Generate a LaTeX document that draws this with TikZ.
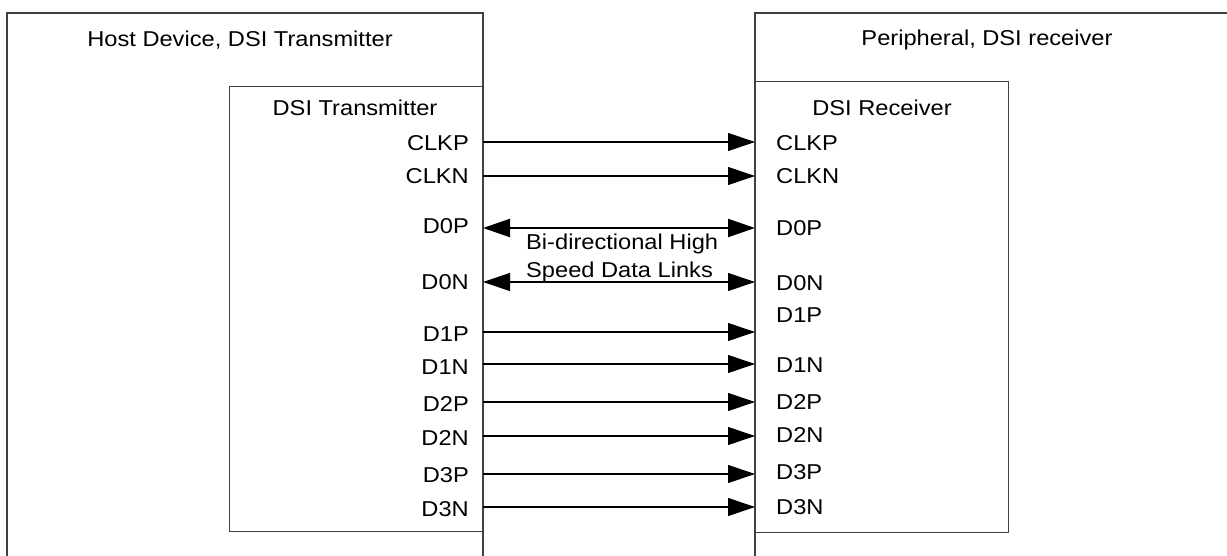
\documentclass[tikz,border=0pt]{standalone}
\usepackage{fontspec}
\setmainfont{Liberation Sans}[FakeStretch=1.1]
\usetikzlibrary{arrows.meta}
\tikzset{
  boxline/.style={draw=black!75, line width=1.3pt},
  lbl/.style={inner sep=0pt, font=\fontsize{21.5}{28}\selectfont},
  sig/.style={draw=black, line width=1.1pt, -{Triangle[length=27pt,width=18pt]}},
  bisig/.style={draw=black, line width=1.1pt, {Triangle[length=27pt,width=18pt]}-{Triangle[length=27pt,width=18pt]}},
}
\begin{document}
\begin{tikzpicture}[x=1pt,y=-1pt]
\useasboundingbox (0,0) rectangle (1227,556);
% outer boxes (open at the bottom / right)
\draw[boxline] (7,556) -- (7,13) -- (483,13) -- (483,556);
\draw[boxline] (755,556) -- (755,13) -- (1228,13);
% inner boxes
\node[boxline, minimum width=254, minimum height=445, anchor=north west, inner sep=0pt] (tx) at (229,86) {};
\node[boxline, minimum width=253, minimum height=451, anchor=north west, inner sep=0pt] (rx) at (755,81) {};
% titles
\node[lbl] (hosttitle) at (240,40) {Host Device, DSI Transmitter};
\node[lbl] (periphtitle) at (987,40) {Peripheral, DSI receiver};
\node[lbl] (txtitle) at (355,108) {DSI Transmitter};
\node[lbl] (rxtitle) at (882,108) {DSI Receiver};
% signals: name / arrow y / left label y / right label y
\foreach \n/\ya/\yl/\yr in {CLKP/142/143/143, CLKN/176/176/176, D1P/332/334/315, D1N/364/367/365, D2P/402/404/402, D2N/436/438/435, D3P/474/475/472, D3N/507/509/507}{
  \coordinate (t\n) at (483,\ya);
  \coordinate (r\n) at (755,\ya);
  \node[lbl, anchor=east] (lt\n) at (469,\yl) {\n};
  \node[lbl, anchor=west] (lr\n) at (776,\yr) {\n};
  \draw[sig] (t\n) -- (r\n);
}
\foreach \n/\ya/\yl/\yr/\w in {D0P/228/226/228/2.2pt, D0N/282/282/283/1.1pt}{
  \coordinate (t\n) at (483,\ya);
  \coordinate (r\n) at (755,\ya);
  \node[lbl, anchor=east] (lt\n) at (469,\yl) {\n};
  \node[lbl, anchor=west] (lr\n) at (776,\yr) {\n};
  \draw[bisig, line width=\w] (t\n) -- (r\n);
}
\node[lbl, anchor=base west] (bidirA) at (526,250) {Bi-directional High};
\node[lbl, anchor=base west] (bidirB) at (526,278) {Speed Data Links};
\end{tikzpicture}
\end{document}
